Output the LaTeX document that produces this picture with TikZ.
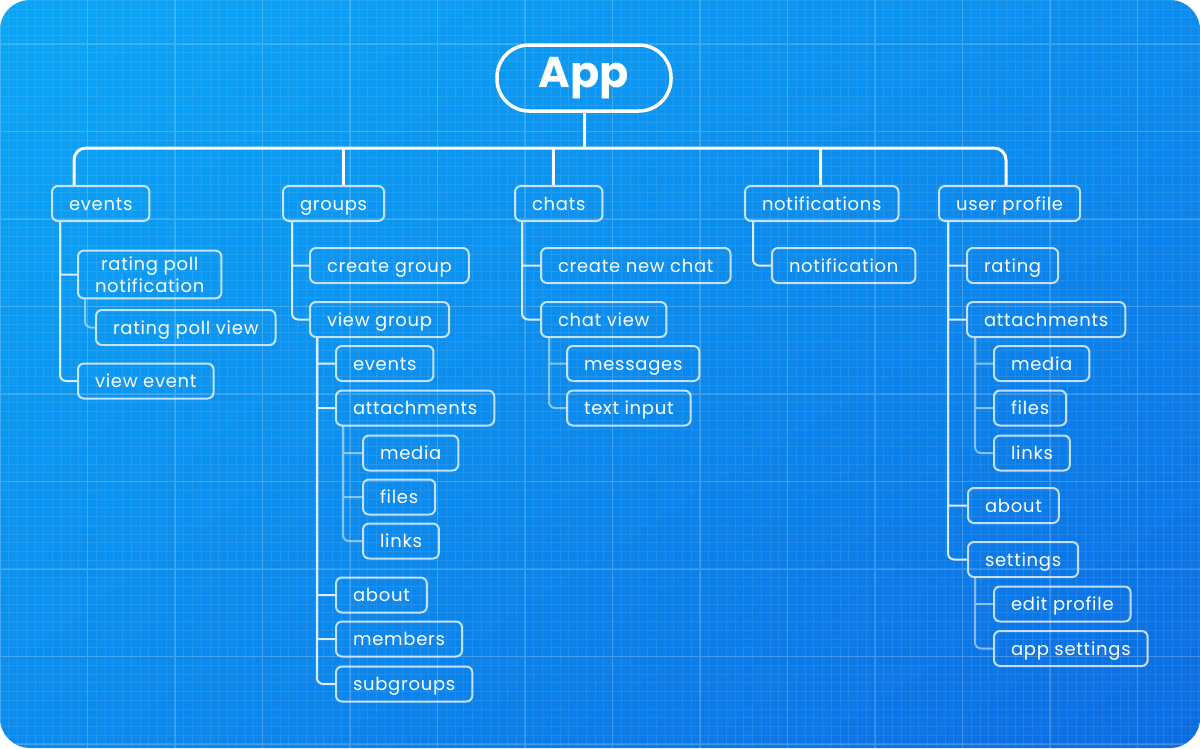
\documentclass[tikz,border=0pt]{standalone}
\usepackage{fontspec}
\setmainfont{Poppins}[LetterSpace=4]
\newfontfamily\appfont{Poppins}
\usetikzlibrary{positioning,shadings}
\definecolor{sky}{RGB}{12,166,246}
\definecolor{mid}{RGB}{12,140,238}
\definecolor{sea}{RGB}{12,108,226}
\tikzstyle{screen}=[
	rectangle,
	rounded corners=6pt,
	draw=white,
	draw opacity=0.75,
	line width=2pt,
	text=white,
	inner xsep=17pt,
	minimum height=35pt,
	anchor=west,
	font=\fontsize{18}{22}\selectfont
]
\tikzstyle{item}=[
	screen,
	text height=15pt,
	text depth=2pt
]
\tikzstyle{root}=[
	rectangle,
	rounded corners=32pt,
	draw=white,
	line width=3.5pt,
	minimum width=174pt,
	minimum height=66pt,
	text=white,
	font=\appfont\fontsize{43}{50}\selectfont\bfseries
]
\tikzstyle{bus}=[
	draw=white,
	line width=3pt,
	rounded corners=12pt
]
\tikzstyle{trunk}=[
	draw=white,
	line width=2pt
]
\tikzstyle{lastleg}=[
	trunk,
	rounded corners=6pt
]

\begin{document}
\begin{tikzpicture}[x=1pt,y=-1pt]
\useasboundingbox (0,0) rectangle (1200,748);
% backdrop
\fill[white] (0,0) rectangle (1200,748);
\shade[rounded corners=30pt, upper left=sky, upper right=mid, lower left=mid, lower right=sea] (0,0) rectangle (1200,748);
\begin{scope}
\clip[rounded corners=30pt] (0,0) rectangle (1200,748);
\draw[white, opacity=0.09, line width=1pt, step=8.75pt, yshift=-44pt] (0,800) grid (1200,-100);
\draw[white, opacity=0.14, line width=1.5pt, step=87.5pt, yshift=-44pt] (0,800) grid (1200,-100);
\end{scope}

% root and top level
\node [root] (app) at (584,78) {App};
\node [item] (events) at (51,203.5) {events};
\node [item] (groups) at (282,203.5) {groups};
\node [item] (chats) at (514,203.5) {chats};
\node [item] (notifications) at (744,203.5) {notifications};
\node [item] (userprofile) at (938,203.5) {user profile};

% events
\node [screen, align=center, inner ysep=6pt] (ratingpoll) at (77,274.5) {rating poll\\notification};
\node [item] (ratingview) at (95,327.5) {rating poll view};
\node [item] (viewevent) at (77,381) {view event};

% groups
\node [item] (creategroup) at (309,265.5) {create group};
\node [item] (viewgroup) at (309,319.5) {view group};
\node [item] (gevents) at (335,363.5) {events};
\node [item] (gattach) at (335,408) {attachments};
\node [item] (gmedia) at (362,453) {media};
\node [item] (gfiles) at (362,497) {files};
\node [item] (glinks) at (362,541) {links};
\node [item] (gabout) at (335,595) {about};
\node [item] (gmembers) at (335,639) {members};
\node [item] (gsubgroups) at (335,684) {subgroups};

% chats
\node [item] (createchat) at (540,265.5) {create new chat};
\node [item] (chatview) at (540,319.5) {chat view};
\node [item] (messages) at (566,363.5) {messages};
\node [item] (textinput) at (566,408) {text input};

% notifications
\node [item] (notification) at (771,265.5) {notification};

% user profile
\node [item] (rating) at (966,265.5) {rating};
\node [item] (uattach) at (966,319.5) {attachments};
\node [item] (umedia) at (993,363.5) {media};
\node [item] (ufiles) at (993,408) {files};
\node [item] (ulinks) at (993,453) {links};
\node [item] (uabout) at (967,505.5) {about};
\node [item] (settings) at (967,559.5) {settings};
\node [item] (editprofile) at (993,604) {edit profile};
\node [item] (appsettings) at (993,648.5) {app settings};

% bus
\coordinate (evstem) at (74,148);
\coordinate (grstem) at (343,148);
\coordinate (chstem) at (553,148);
\coordinate (nostem) at (820,148);
\coordinate (upstem) at (1006,148);
\draw[bus] (events.north -| evstem) |- (upstem) -- (userprofile.north -| upstem);
\draw[bus] (app.south) -- (app.south |- evstem);
\draw[bus] (groups.north -| grstem) -- (grstem);
\draw[bus] (chats.north -| chstem) -- (chstem);
\draw[bus] (notifications.north -| nostem) -- (nostem);

% bright legs
\begin{scope}[transparency group, opacity=0.85]
\draw[lastleg] ([xshift=9pt]events.south west) |- (viewevent.west);
\draw[trunk] ([xshift=9pt]events.south west) |- (ratingpoll.west);
\draw[lastleg] ([xshift=10pt]groups.south west) |- (viewgroup.west);
\draw[trunk] ([xshift=10pt]groups.south west) |- (creategroup.west);
\draw[lastleg] ([xshift=8pt]viewgroup.south west) |- (gsubgroups.west);
\foreach \c in {gevents,gattach,gabout,gmembers}
	\draw[trunk] ([xshift=8pt]viewgroup.south west) |- (\c.west);
\draw[lastleg] ([xshift=8pt]chats.south west) |- (chatview.west);
\draw[trunk] ([xshift=8pt]chats.south west) |- (createchat.west);
\draw[lastleg] ([xshift=9pt]notifications.south west) |- (notification.west);
\draw[lastleg] ([xshift=10pt]userprofile.south west) |- (settings.west);
\foreach \c in {rating,uattach,uabout}
	\draw[trunk] ([xshift=10pt]userprofile.south west) |- (\c.west);
\end{scope}

% faint legs
\begin{scope}[transparency group, opacity=0.5]
\draw[lastleg] ([xshift=8pt]ratingpoll.south west) |- (ratingview.west);
\draw[lastleg] ([xshift=8pt]gattach.south west) |- (glinks.west);
\foreach \c in {gmedia,gfiles}
	\draw[trunk] ([xshift=8pt]gattach.south west) |- (\c.west);
\draw[lastleg] ([xshift=9pt]chatview.south west) |- (textinput.west);
\draw[trunk] ([xshift=9pt]chatview.south west) |- (messages.west);
\draw[lastleg] ([xshift=9pt]uattach.south west) |- (ulinks.west);
\foreach \c in {umedia,ufiles}
	\draw[trunk] ([xshift=9pt]uattach.south west) |- (\c.west);
\draw[lastleg] ([xshift=8pt]settings.south west) |- (appsettings.west);
\draw[trunk] ([xshift=8pt]settings.south west) |- (editprofile.west);
\end{scope}
\end{tikzpicture}
\end{document}
